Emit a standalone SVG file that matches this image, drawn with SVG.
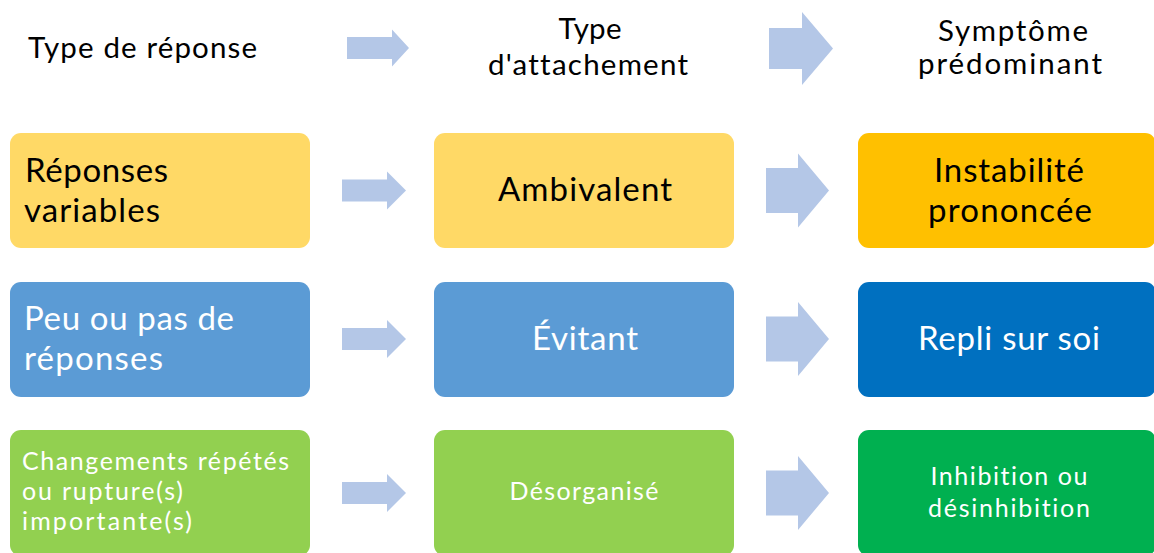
<svg xmlns="http://www.w3.org/2000/svg" xmlns:xlink="http://www.w3.org/1999/xlink" width="1154" height="553" viewBox="0 0 1154 553">
<style>
  text { font-family: Lato, "Open Sans", "Liberation Sans", sans-serif; font-variant-ligatures: none; }
  .hd { font-size: 29.5px; fill: #000000; }
  .big { font-size: 33px; }
  .sm { font-size: 25px; }
  .dark { fill: #000000; }
  .light { fill: #ffffff; }
  .mid { text-anchor: middle; }
  .arrow { fill: #B4C7E7; }
  .y1 { fill: #FFD966; }
  .y2 { fill: #FFC000; }
  .b1 { fill: #5B9BD5; }
  .b2 { fill: #0070C0; }
  .g1 { fill: #92D050; }
  .g2 { fill: #00B050; }
</style>
<defs>
  <polygon id="arrS" points="0,-11 45,-11 45,-19 64,0 45,19 45,11 0,11"/>
  <polygon id="arrL" points="0,-22.5 32,-22.5 32,-37 63,0 32,37 32,22.5 0,22.5"/>
</defs>
<rect x="0" y="0" width="1154" height="553" fill="#ffffff"/>

<g id="header-response">
  <text class="hd" x="28" y="58" textLength="229">Type de réponse</text>
</g>
<g id="header-attachment">
  <text class="hd mid" x="590" y="39" textLength="63">Type</text>
  <text class="hd mid" x="588" y="75" textLength="200">d'attachement</text>
</g>
<g id="header-symptom">
  <text class="hd mid" x="1013" y="41" textLength="150">Symptôme</text>
  <text class="hd mid" x="1010" y="74" textLength="184">prédominant</text>
</g>

<g id="connectors">
  <polygon class="arrow" points="347,37 392,37 392,29.5 409,48 392,66.5 392,59 347,59"/>
  <polygon class="arrow" points="769,28 802,28 802,12 833,48.5 802,85 802,69 769,69"/>
  <use href="#arrS" xlink:href="#arrS" class="arrow" transform="translate(342,190.5)"/>
  <use href="#arrL" xlink:href="#arrL" class="arrow" transform="translate(766,190.5)"/>
  <use href="#arrS" xlink:href="#arrS" class="arrow" transform="translate(342,339)"/>
  <use href="#arrL" xlink:href="#arrL" class="arrow" transform="translate(766,339)"/>
  <use href="#arrS" xlink:href="#arrS" class="arrow" transform="translate(342,493)"/>
  <use href="#arrL" xlink:href="#arrL" class="arrow" transform="translate(766,493)"/>
</g>

<g id="node-reponses-variables">
  <rect class="y1" x="10" y="133" width="300" height="115" rx="11"/>
  <text class="big dark" x="25" y="182" textLength="143">Réponses</text>
  <text class="big dark" x="24" y="222" textLength="136">variables</text>
</g>
<g id="node-ambivalent">
  <rect class="y1" x="434" y="133" width="300" height="115" rx="11"/>
  <text class="big dark mid" x="585" y="201" textLength="174">Ambivalent</text>
</g>
<g id="node-instabilite">
  <rect class="y2" x="858" y="133" width="298" height="115" rx="11"/>
  <text class="big dark mid" x="1009" y="182" textLength="150">Instabilité</text>
  <text class="big dark mid" x="1010" y="222" textLength="164">prononcée</text>
</g>

<g id="node-peu-de-reponses">
  <rect class="b1" x="10" y="282" width="300" height="115" rx="11"/>
  <text class="big light" x="24" y="330" textLength="210">Peu ou pas de</text>
  <text class="big light" x="24" y="370" textLength="139">réponses</text>
</g>
<g id="node-evitant">
  <rect class="b1" x="434" y="282" width="300" height="115" rx="11"/>
  <text class="big light mid" x="585" y="350" textLength="106">Évitant</text>
</g>
<g id="node-repli">
  <rect class="b2" x="858" y="282" width="298" height="115" rx="11"/>
  <text class="big light mid" x="1009" y="350" textLength="182">Repli sur soi</text>
</g>

<g id="node-changements">
  <rect class="g1" x="10" y="430" width="300" height="126" rx="11"/>
  <text class="sm light" x="22" y="470" textLength="267">Changements répétés</text>
  <text class="sm light" x="22" y="500" textLength="161">ou rupture(s)</text>
  <text class="sm light" x="22" y="530" textLength="170">importante(s)</text>
</g>
<g id="node-desorganise">
  <rect class="g1" x="434" y="430" width="300" height="126" rx="11"/>
  <text class="sm light mid" x="584" y="500" textLength="149">Désorganisé</text>
</g>
<g id="node-inhibition">
  <rect class="g2" x="858" y="430" width="298" height="126" rx="11"/>
  <text class="sm light mid" x="1009" y="485" textLength="157">Inhibition ou</text>
  <text class="sm light mid" x="1009" y="517" textLength="162">désinhibition</text>
</g>
</svg>
